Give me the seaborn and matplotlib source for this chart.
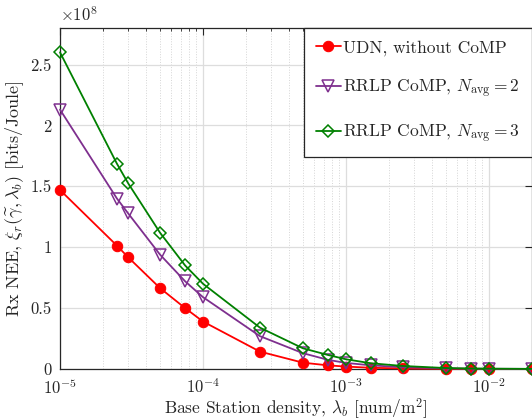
import numpy as np
import pandas as pd
import matplotlib
matplotlib.use("Agg")
import matplotlib.pyplot as plt
import seaborn as sns
from matplotlib.ticker import LogLocator, NullFormatter, MultipleLocator, FuncFormatter

# Base station densities [num/m^2]
density = [1e-5, 2.5e-5, 3e-5, 5e-5, 7.5e-5, 1e-4, 2.5e-4, 5e-4, 7.5e-4,
           1e-3, 1.5e-3, 2.5e-3, 5e-3, 7.5e-3, 1e-2, 2e-2]

# Rx NEE in units of 1e8 bits/Joule
nee_udn = [1.47, 1.013, 0.917, 0.665, 0.50, 0.39, 0.143, 0.052, 0.03,
           0.02, 0.01, 0.005, 0.002, 0.001, 0.001, 0.0005]
nee_rrlp2 = [2.13, 1.40, 1.277, 0.94, 0.72, 0.59, 0.27, 0.13, 0.075,
             0.05, 0.03, 0.015, 0.005, 0.003, 0.002, 0.001]
nee_rrlp3 = [2.60, 1.686, 1.524, 1.12, 0.85, 0.70, 0.34, 0.17, 0.115,
             0.08, 0.047, 0.025, 0.008, 0.004, 0.003, 0.001]

labels = ["UDN, without CoMP",
          r"RRLP CoMP, $N_{\mathrm{avg}} = 2$",
          r"RRLP CoMP, $N_{\mathrm{avg}} = 3$"]

sns.set_theme(style="white")
plt.rcParams.update({
    "font.family": "serif",
    "font.serif": ["cmr10", "DejaVu Serif"],
    "mathtext.fontset": "cm",
    "axes.formatter.use_mathtext": True,
    "axes.unicode_minus": False,
})

fig = plt.figure(figsize=(5.32, 4.19), dpi=100)
ax = fig.add_axes([0.1128, 0.1193, 0.8872, 0.8139])

series = [
    (nee_udn, "#FF0000", "o", dict(mfc="#FF0000", ms=7.5)),
    (nee_rrlp2, "#7E2F8E", "v", dict(mfc="none", ms=8.5, mew=1.1)),
    (nee_rrlp3, "#008000", "D", dict(mfc="none", ms=6.3, mew=1.1)),
]
for (vals, col, mk, kw), lab in zip(series, labels):
    df = pd.DataFrame({"x": density, "y": vals})
    sns.lineplot(data=df, x="x", y="y", ax=ax, color=col, marker=mk,
                 mec=col, lw=1.3, label=lab, clip_on=False, zorder=3, **kw)

ax.set_xscale("log")
ax.set_xlim(1e-5, 2e-2)
ax.set_ylim(0, 2.8)
ax.yaxis.set_major_locator(MultipleLocator(0.5))
ax.yaxis.set_major_formatter(FuncFormatter(lambda v, p: f"{v:g}"))
ax.xaxis.set_major_locator(LogLocator(base=10, numticks=10))
ax.xaxis.set_minor_locator(LogLocator(base=10, subs=np.arange(2, 10), numticks=20))
ax.xaxis.set_minor_formatter(NullFormatter())

ax.grid(True, which="major", color="#DDDDDD", lw=0.9, ls="-")
ax.grid(True, which="minor", axis="x", color="#D5D5D5", lw=0.7, ls=":")
ax.set_axisbelow(True)

ax.tick_params(which="both", direction="in", top=True, right=True,
               labelsize=12, colors="#262626")
ax.tick_params(axis="y", pad=6)
ax.tick_params(axis="x", pad=6)
ax.tick_params(which="major", length=5, width=0.8)
ax.tick_params(which="minor", length=2.5, width=0.6)
for sp in ax.spines.values():
    sp.set_color("#262626")
    sp.set_linewidth(0.9)

# scale factor of the y axis
ax.text(0.0, 1.012, r"$\times 10^8$", transform=ax.transAxes, fontsize=12,
        ha="left", va="bottom", color="#262626")

ax.set_xlabel(r"Base Station density, $\lambda_b$ [num/m$^2$]", fontsize=12.5,
              labelpad=-1)
ax.set_ylabel(r"Rx NEE, $\xi_r(\widetilde{\gamma},\boldsymbol{\lambda_b})$ [bits/Joule]",
              fontsize=13, labelpad=3)

leg = ax.legend(loc="upper right", fontsize=12.5, frameon=True, fancybox=False,
                edgecolor="#262626", framealpha=1, handlelength=1.4,
                handletextpad=0.15, labelspacing=1.25, borderpad=0.7,
                borderaxespad=0.0)
leg.get_frame().set_linewidth(0.9)

fig.savefig("out.png", dpi=100)
